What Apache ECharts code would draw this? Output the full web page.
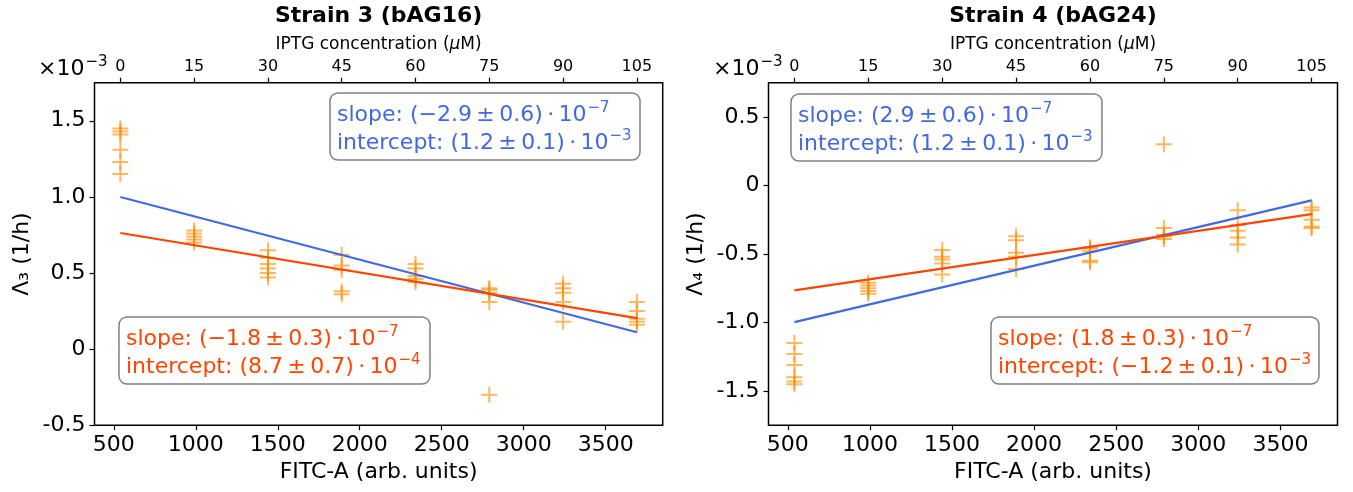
<!DOCTYPE html>
<html><head><meta charset="utf-8">
<script src="https://cdn.jsdelivr.net/npm/echarts@6/dist/echarts.min.js"></script>
<style>html,body{margin:0;padding:0;background:#fff}#c{width:1353px;height:492px}</style>
</head><body><div id="c"></div><script>
// FITC-A (arb. units) mean per IPTG level, IPTG concentrations (µM)
const fitc = [540, 990, 1440, 1890, 2340, 2790, 3240, 3690];
const iptg = [0, 15, 30, 45, 60, 75, 90, 105];
const fitcTicks = [500, 1000, 1500, 2000, 2500, 3000, 3500];
const yTicks3 = [-0.5, 0, 0.5, 1.0, 1.5];
const yTicks4 = [-1.5, -1.0, -0.5, 0, 0.5];
// Lambda values (x10^-3 1/h), one list per IPTG level
const lambda3 = [
  [1.45, 1.43, 1.41, 1.31, 1.23, 1.15],
  [0.78, 0.76, 0.74, 0.72, 0.70],
  [0.65, 0.60, 0.56, 0.53, 0.50, 0.47],
  [0.62, 0.55, 0.52, 0.38, 0.36],
  [0.56, 0.53, 0.48, 0.46, 0.44],
  [0.40, 0.39, 0.37, 0.31, -0.30],
  [0.43, 0.40, 0.37, 0.31, 0.18],
  [0.31, 0.25, 0.20, 0.18, 0.16]
];
const lambda4 = [
  [-1.15, -1.23, -1.31, -1.40, -1.43, -1.45],
  [-0.71, -0.73, -0.75, -0.77, -0.79],
  [-0.47, -0.52, -0.54, -0.57, -0.65],
  [-0.37, -0.40, -0.49, -0.52, -0.61],
  [-0.45, -0.46, -0.48, -0.55, -0.56],
  [0.30, -0.31, -0.36, -0.37, -0.39],
  [-0.18, -0.29, -0.33, -0.38, -0.43],
  [-0.16, -0.18, -0.25, -0.30, -0.31]
];
// fitted lines (x10^-3 units)
const fit3Blue = {slope: -2.82e-4, intercept: 1.152};
const fit3Red  = {slope: -1.775e-4, intercept: 0.859};
const fit4Blue = {slope: 2.822e-4, intercept: -1.150};
const fit4Red  = {slope: 1.768e-4, intercept: -0.861};
const T = '\u2009';
const fitLabels = {
  s3blue: ['slope: (−2.9' + T + '±' + T + '0.6)' + T + '·' + T + '10', '−7', 'intercept: (1.2' + T + '±' + T + '0.1)' + T + '·' + T + '10', '−3'],
  s3red:  ['slope: (−1.8' + T + '±' + T + '0.3)' + T + '·' + T + '10', '−7', 'intercept: (8.7' + T + '±' + T + '0.7)' + T + '·' + T + '10', '−4'],
  s4blue: ['slope: (2.9' + T + '±' + T + '0.6)' + T + '·' + T + '10', '−7', 'intercept: (1.2' + T + '±' + T + '0.1)' + T + '·' + T + '10', '−3'],
  s4red:  ['slope: (1.8' + T + '±' + T + '0.3)' + T + '·' + T + '10', '−7', 'intercept: (−1.2' + T + '±' + T + '0.1)' + T + '·' + T + '10', '−3']
};

const FONT = 'DejaVu Sans';
const BLUE = '#4169E1', RED = '#FF4500';
const XMIN = 382.5, XMAX = 3847.5;

function pts(vals) {
  const out = [];
  vals.forEach((arr, i) => arr.forEach(v => out.push([fitc[i], v])));
  return out;
}
function lineData(f) {
  const x0 = fitc[0], x1 = fitc[fitc.length - 1];
  return [[x0, f.intercept + f.slope * x0], [x1, f.intercept + f.slope * x1]];
}
function yFmt(v) { return Math.abs(v) < 1e-9 ? '0' : v.toFixed(1); }
function iptgFmt(v) {
  let best = 0;
  fitc.forEach((f, i) => { if (Math.abs(f - v) < Math.abs(fitc[best] - v)) best = i; });
  return String(iptg[best]);
}

const grids = [
  {left: 94.5, top: 82.7, width: 568.2, height: 342.6, show: true, borderColor: '#000', borderWidth: 1.5, backgroundColor: 'transparent'},
  {left: 768.5, top: 82.7, width: 569, height: 342.6, show: true, borderColor: '#000', borderWidth: 1.5, backgroundColor: 'transparent'}
];
function bottomAxis(g) {
  return {
    type: 'value', gridIndex: g, position: 'bottom', min: XMIN, max: XMAX,
    name: 'FITC-A (arb. units)', nameLocation: 'middle', nameGap: 36,
    nameTextStyle: {fontFamily: FONT, fontSize: 22, color: '#000'},
    axisLine: {show: false, onZero: false}, splitLine: {show: false},
    axisTick: {show: true, customValues: fitcTicks, length: 5, lineStyle: {color: '#000', width: 1.2}},
    axisLabel: {customValues: fitcTicks, margin: 9, fontFamily: FONT, fontSize: 22, color: '#000', formatter: v => String(v)}
  };
}
function topAxis(g) {
  return {
    type: 'value', gridIndex: g, position: 'top', min: XMIN, max: XMAX,
    name: '{n|IPTG concentration (}{i|μ}{n|M)}', nameLocation: 'middle', nameGap: 30,
    nameTextStyle: {rich: {n: {fontFamily: FONT, fontSize: 17, color: '#000'}, i: {fontFamily: FONT, fontSize: 17, fontStyle: 'italic', color: '#000'}}},
    axisLine: {show: false, onZero: false}, splitLine: {show: false},
    axisTick: {show: true, customValues: fitc, length: 5, lineStyle: {color: '#000', width: 1.2}},
    axisLabel: {customValues: fitc, margin: 8, fontFamily: FONT, fontSize: 16, color: '#000', formatter: iptgFmt}
  };
}
function yAxis(g, min, max, ticks, name) {
  return {
    type: 'value', gridIndex: g, min: min, max: max,
    name: name, nameLocation: 'middle', nameGap: 61,
    nameTextStyle: {fontFamily: FONT, fontSize: 22, color: '#000'},
    axisLine: {show: false, onZero: false}, splitLine: {show: false},
    axisTick: {show: true, customValues: ticks, length: 5, lineStyle: {color: '#000', width: 1.2}},
    axisLabel: {customValues: ticks, margin: 9, fontFamily: FONT, fontSize: 22, color: '#000', formatter: yFmt}
  };
}
const PLUS = 'path://M7,0H9V7H16V9H9V16H7V9H0V7H7Z';
function scatter(xi, yi, vals) {
  return {type: 'scatter', xAxisIndex: xi, yAxisIndex: yi, data: pts(vals), symbol: PLUS, symbolSize: 16,
    itemStyle: {color: 'rgba(255,140,0,0.78)'}, z: 2, silent: true};
}
function fitLine(xi, yi, f, color) {
  return {type: 'line', xAxisIndex: xi, yAxisIndex: yi, data: lineData(f), showSymbol: false, symbol: 'none',
    lineStyle: {color: color, width: 2.2}, z: 3, silent: true};
}
function box(x, y, w, h, lab, color) {
  const rich = {
    b: {fontFamily: FONT, fontSize: 22, fill: color, lineHeight: 28, verticalAlign: 'bottom'},
    s: {fontFamily: FONT, fontSize: 15, fill: color, lineHeight: 28, verticalAlign: 'bottom', padding: [0, 0, 10, 1]}
  };
  return [
    {type: 'rect', z: 10, shape: {x: x, y: y, width: w, height: h, r: 8},
     style: {fill: 'rgba(255,255,255,0.85)', stroke: '#808080', lineWidth: 1.5}},
    {type: 'text', z: 11, x: x + 7, y: y + 5,
     style: {text: '{b|' + lab[0] + '}{s|' + lab[1] + '}\n{b|' + lab[2] + '}{s|' + lab[3] + '}', fill: color, rich: rich, verticalAlign: 'top', align: 'left'}}
  ];
}
function title(x, t) {
  return {type: 'text', x: x, y: 16, style: {text: t, font: 'bold 22px "DejaVu Sans"', fill: '#000', align: 'center', verticalAlign: 'middle'}};
}
function mult(x) {
  return {type: 'text', x: x, y: 67, style: {
    text: '{a|×10}{s|−3}', verticalAlign: 'middle', align: 'left', fill: '#000',
    rich: {a: {fontFamily: FONT, fontSize: 22, fill: '#000', verticalAlign: 'bottom', lineHeight: 26},
           s: {fontFamily: FONT, fontSize: 15, fill: '#000', verticalAlign: 'bottom', lineHeight: 26, padding: [0, 0, 10, 1]}}}};
}

const option = {
  animation: false,
  backgroundColor: '#fff',
  grid: grids,
  xAxis: [bottomAxis(0), topAxis(0), bottomAxis(1), topAxis(1)],
  yAxis: [
    yAxis(0, -0.5, 1.75, yTicks3, 'Λ₃ (1/h)'),
    yAxis(1, -1.75, 0.75, yTicks4, 'Λ₄ (1/h)')
  ],
  series: [
    scatter(0, 0, lambda3), fitLine(0, 0, fit3Blue, BLUE), fitLine(0, 0, fit3Red, RED),
    scatter(2, 1, lambda4), fitLine(2, 1, fit4Blue, BLUE), fitLine(2, 1, fit4Red, RED)
  ],
  graphic: [].concat(
    box(330, 93, 310, 67, fitLabels.s3blue, BLUE),
    box(119, 317, 311, 67, fitLabels.s3red, RED),
    box(791, 94, 311, 67, fitLabels.s4blue, BLUE),
    box(991, 317, 328, 67, fitLabels.s4red, RED),
    [title(378.6, 'Strain 3 (bAG16)'), title(1053, 'Strain 4 (bAG24)'), mult(38), mult(713)]
  )
};
const chart = echarts.init(document.getElementById('c'), null, {renderer: 'canvas'});
chart.setOption(option);
</script></body></html>
